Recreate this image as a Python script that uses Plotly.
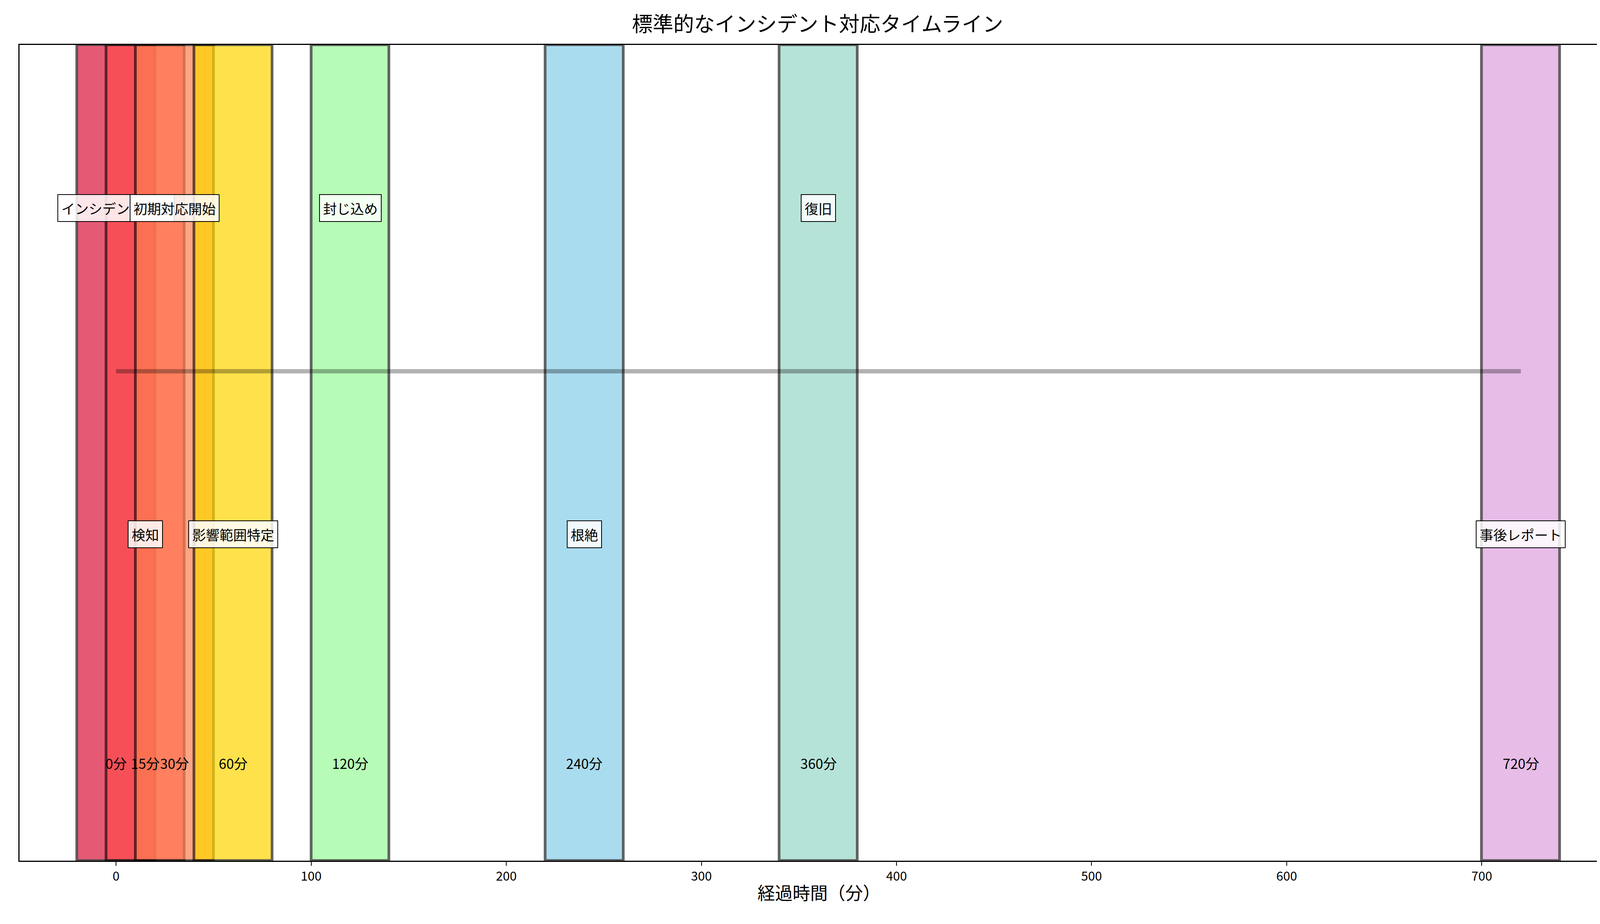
import plotly.graph_objects as go

# incident response milestones
events = ["インシデント発生", "検知", "初期対応開始", "影響範囲特定", "封じ込め", "根絶", "復旧", "事後レポート"]
times = [0, 15, 30, 60, 120, 240, 360, 720]
colors = ["#DC143C", "#FF4C4C", "#FF7F50", "#FFD700", "#98FB98", "#87CEEB", "#98D8C8", "#DDA0DD"]
label_y = [0.8, 0.4, 0.8, 0.4, 0.8, 0.4, 0.8, 0.4]
time_labels = [f"{t}分" for t in times]

font = "Noto Sans CJK JP"
fig = go.Figure()

fig.add_trace(go.Bar(
    x=times, y=[1] * len(times), width=40,
    marker=dict(color=colors, opacity=0.7, line=dict(color="rgba(0,0,0,0.85)", width=7)),
    showlegend=False, hoverinfo="skip",
))

fig.add_trace(go.Scatter(
    x=[times[0], times[-1]], y=[0.6, 0.6], mode="lines",
    line=dict(color="rgba(0,0,0,0.3)", width=11), showlegend=False,
))

for ev, t, ly, tl in zip(events, times, label_y, time_labels):
    fig.add_annotation(x=t, y=ly, text=ev, showarrow=False,
                       font=dict(family=font, size=35, color="black"),
                       bgcolor="rgba(255,255,255,0.85)", bordercolor="black",
                       borderwidth=2, borderpad=8)
    fig.add_annotation(x=t, y=0.12, text=tl, showarrow=False,
                       font=dict(family=font, size=35, color="black"))

fig.update_layout(
    width=4170, height=2365,
    plot_bgcolor="white", paper_bgcolor="white",
    margin=dict(l=42, r=35, t=107, b=170),
    bargap=0,
    title=dict(text="標準的なインシデント対応タイムライン", x=0.5, xanchor="center", y=0.985,
               font=dict(family=font, size=53, color="black")),
    font=dict(family=font),
)
fig.update_xaxes(range=[-49.5, 770], tickvals=[0, 100, 200, 300, 400, 500, 600, 700],
                 ticks="outside", ticklen=10, tickwidth=2, tickcolor="black",
                 tickfont=dict(size=32, color="black"),
                 title=dict(text="経過時間（分）", font=dict(size=45, color="black"), standoff=10),
                 showgrid=False, zeroline=False, showline=True, linecolor="black", linewidth=3, mirror=True)
fig.update_yaxes(range=[0, 1], showticklabels=False, showgrid=False, zeroline=False,
                 showline=True, linecolor="black", linewidth=3, mirror=True)

fig.write_html("out.html")
